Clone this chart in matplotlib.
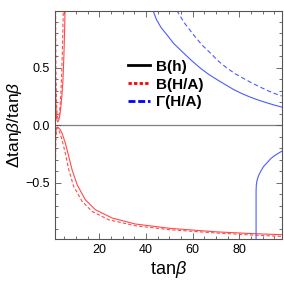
import matplotlib
matplotlib.use("Agg")
import matplotlib.pyplot as plt
from matplotlib.lines import Line2D
from matplotlib.ticker import MultipleLocator, FuncFormatter

# Valores (tanβ, Δtanβ/tanβ)
red_up_solid_x = [1.02, 1.06, 1.12, 1.2, 1.3, 1.45, 1.65, 1.9, 2.2, 2.6, 3.0, 3.5, 4.0, 4.4, 4.8, 5.1, 5.3]
red_up_solid_y = [1.0, 0.75, 0.55, 0.38, 0.25, 0.14, 0.07, 0.04, 0.03, 0.045, 0.08, 0.16, 0.27, 0.39, 0.6, 0.82, 1.0]

red_up_dash_x = [1.25, 1.32, 1.42, 1.55, 1.75, 2.0, 2.3, 2.7, 3.1, 3.5, 3.8, 4.1, 4.35, 4.55]
red_up_dash_y = [1.0, 0.7, 0.45, 0.27, 0.14, 0.08, 0.06, 0.08, 0.15, 0.27, 0.42, 0.6, 0.8, 1.0]

red_lo_solid_x = [1.02, 1.1, 1.25, 1.5, 1.9, 2.5, 3.2, 4.0, 5.4, 6.9, 8.3, 10.5, 14.0, 18.3, 25.5, 35.4, 50.4, 70.0, 85.0, 98.2]
red_lo_solid_y = [-0.3, -0.18, -0.08, -0.03, -0.014, -0.02, -0.035, -0.066, -0.153, -0.27, -0.385, -0.516, -0.646, -0.733, -0.805, -0.857, -0.895, -0.925, -0.94, -0.95]

red_lo_dash_x = [1.02, 1.1, 1.2, 1.35, 1.55, 1.8, 2.3, 3.0, 4.0, 5.4, 6.9, 9.0, 12.6, 16.9, 24.0, 35.4, 50.4, 70.0, 85.0, 98.2]
red_lo_dash_y = [-0.76, -0.5, -0.3, -0.15, -0.06, -0.02, -0.025, -0.06, -0.124, -0.24, -0.385, -0.53, -0.66, -0.748, -0.82, -0.872, -0.907, -0.935, -0.952, -0.965]

blue_solid_x = [43.0, 44.5, 46.5, 48.9, 52.0, 56.0, 59.5, 63.2, 66.8, 70.3, 74.0, 77.5, 81.0, 84.6, 88.2, 91.8, 95.0, 98.2]
blue_solid_y = [1.0, 0.92, 0.85, 0.79, 0.71, 0.632, 0.565, 0.50, 0.445, 0.40, 0.355, 0.313, 0.278, 0.247, 0.22, 0.197, 0.177, 0.16]

blue_dash_x = [53.2, 56.5, 60.3, 64.0, 67.5, 71.0, 74.6, 78.2, 81.7, 85.3, 88.9, 92.5, 95.5, 98.2]
blue_dash_y = [1.0, 0.89, 0.79, 0.70, 0.632, 0.56, 0.50, 0.45, 0.41, 0.37, 0.334, 0.30, 0.275, 0.256]

blue_lo_x = [87.2, 87.2, 87.3, 87.6, 88.2, 88.9, 90.3, 91.8, 93.2, 94.6, 96.5, 98.2]
blue_lo_y = [-0.99, -0.57, -0.52, -0.48, -0.44, -0.41, -0.36, -0.327, -0.295, -0.27, -0.245, -0.225]

legend_labels = ["B(h)", "B(H/A)", "Γ(H/A)"]

red = "#ff4a4a"
blue = "#4a5cff"

plt.rcParams["font.family"] = ["Liberation Sans", "DejaVu Sans"]
plt.rcParams["mathtext.fontset"] = "custom"
plt.rcParams["mathtext.it"] = "Liberation Sans:italic"
plt.rcParams["mathtext.rm"] = "Liberation Sans"

fig = plt.figure(figsize=(2.84, 2.84), dpi=100)
ax = fig.add_axes([0.1937, 0.1574, 0.7983, 0.8039])

ax.axhline(0, color="#808080", lw=0.9, zorder=1)

ax.plot(red_up_solid_x, red_up_solid_y, color=red, lw=0.8)
ax.plot(red_up_dash_x, red_up_dash_y, color=red, lw=0.8, dashes=(3, 2))
ax.plot(red_lo_solid_x, red_lo_solid_y, color=red, lw=0.8)
ax.plot(red_lo_dash_x, red_lo_dash_y, color=red, lw=0.8, dashes=(3, 2))
ax.plot(blue_solid_x, blue_solid_y, color=blue, lw=0.8)
ax.plot(blue_dash_x, blue_dash_y, color=blue, lw=0.8, dashes=(4, 2.5))
ax.plot(blue_lo_x, blue_lo_y, color=blue, lw=0.8)

ax.set_xlim(1, 98.2)
ax.set_ylim(-0.99, 0.995)

ax.xaxis.set_major_locator(MultipleLocator(20))
ax.xaxis.set_minor_locator(MultipleLocator(5))
ax.yaxis.set_major_locator(MultipleLocator(0.5))
ax.yaxis.set_minor_locator(MultipleLocator(0.1))
ax.tick_params(which="both", direction="in", top=True, right=True, colors="#555555",
               labelcolor="black", labelsize=9, width=0.6)
ax.tick_params(which="major", length=4)
ax.tick_params(which="minor", length=2)
ax.yaxis.set_major_formatter(FuncFormatter(lambda v, p: ("%.1f" % v).replace("-", "\u2212")))
for s in ax.spines.values():
    s.set_color("#555555")
    s.set_linewidth(0.8)

ax.set_xlabel(r"tan$\beta$", fontsize=13, labelpad=2)
ax.set_ylabel(r"$\Delta$tan$\beta$/tan$\beta$", fontsize=12.5, labelpad=1)

handles = [
    Line2D([], [], color="black", lw=2),
    Line2D([], [], color="red", lw=2, ls=(0, (1.2, 0.8))),
    Line2D([], [], color="blue", lw=2, ls=(0, (2.5, 1))),
]
ax.legend(handles, legend_labels, loc="upper left", bbox_to_anchor=(0.29, 0.82),
          frameon=False, prop={"weight": "bold", "size": 11},
          handlelength=1.4, handletextpad=0.4, labelspacing=0.25, borderpad=0)

fig.savefig("out.png", dpi=100)
